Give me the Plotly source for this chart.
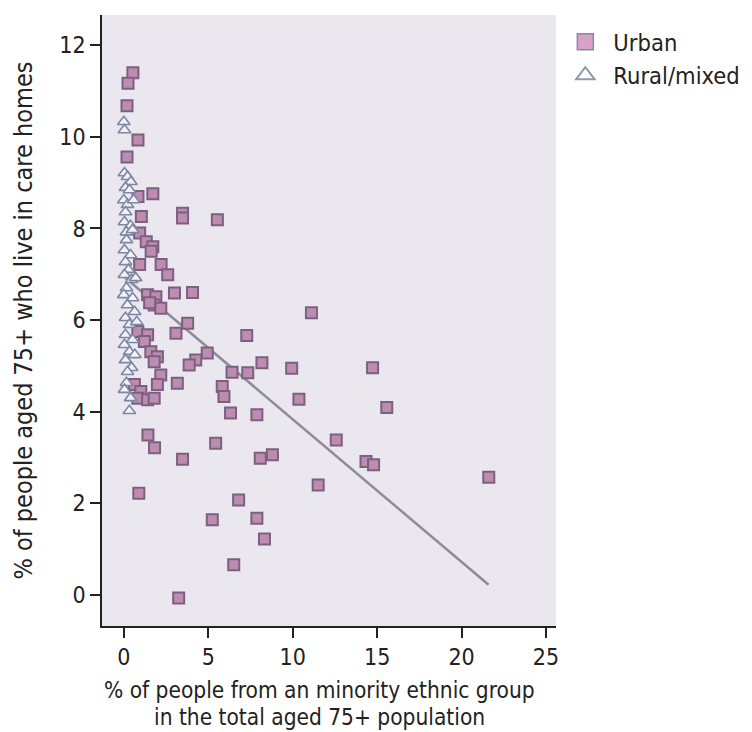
import plotly.graph_objects as go

# Urban local authorities: x = % minority ethnic in 75+ population, y = % of 75+ in care homes
urban_x = [0.54, 0.25, 0.19, 0.84, 0.19, 1.72, 0.84, 3.48, 3.48, 5.54, 1.04, 0.94, 1.33, 1.72, 1.62,
           2.21, 2.60, 0.94, 3.00, 4.07, 1.41, 1.90, 1.80, 2.19, 1.53, 3.78, 3.09, 7.28, 0.83, 1.41,
           1.22, 1.60, 1.99, 1.80, 4.94, 4.26, 3.87, 6.41, 7.34, 2.19, 1.99, 3.17, 0.63, 1.01, 0.83,
           1.41, 1.80, 5.83, 5.93, 6.32, 1.43, 1.82, 5.44, 3.48, 0.89, 6.80, 5.24, 6.51, 3.25, 11.11,
           8.18, 9.94, 14.73, 10.37, 15.57, 7.88, 12.58, 8.08, 8.80, 14.34, 14.79, 11.51, 21.61, 7.88, 8.33]
urban_y = [11.40, 11.17, 10.68, 9.93, 9.56, 8.76, 8.70, 8.33, 8.23, 8.19, 8.26, 7.90, 7.71, 7.60, 7.50,
           7.21, 6.99, 7.21, 6.59, 6.60, 6.55, 6.51, 6.33, 6.26, 6.38, 5.93, 5.71, 5.66, 5.75, 5.68,
           5.53, 5.31, 5.20, 5.09, 5.28, 5.13, 5.02, 4.86, 4.85, 4.80, 4.59, 4.62, 4.59, 4.44, 4.29,
           4.26, 4.29, 4.55, 4.33, 3.97, 3.49, 3.21, 3.31, 2.96, 2.22, 2.07, 1.64, 0.66, -0.07, 6.16,
           5.07, 4.95, 4.96, 4.27, 4.09, 3.93, 3.38, 2.98, 3.06, 2.91, 2.84, 2.40, 2.57, 1.67, 1.22]

# Rural/mixed local authorities
rural_x = [0.00, 0.04, 0.04, 0.22, 0.42, 0.10, 0.34, 0.00, 0.22, 0.10, 0.04, 0.40, 0.16, 0.16, 0.04,
           0.40, 0.10, 0.28, 0.04, 0.46, 0.16, 0.00, 0.52, 0.22, 0.64, 0.10, 0.34, 0.10, 0.52, 0.04,
           0.34, 0.10, 0.46, 0.22, 0.16, 0.04, 0.40, 0.33, 0.70, 0.77, 0.65, 0.52, 0.58]
rural_y = [10.33, 10.15, 9.21, 9.13, 9.02, 8.89, 8.84, 8.62, 8.52, 8.36, 8.14, 8.06, 7.92, 7.75, 7.53,
           7.42, 7.27, 7.10, 6.99, 6.88, 6.70, 6.55, 6.48, 6.33, 6.18, 6.05, 5.90, 5.68, 5.57, 5.46,
           5.31, 5.13, 4.96, 4.87, 4.63, 4.48, 4.30, 4.02, 6.92, 5.96, 5.24, 7.97, 8.62]

# Fitted regression line (end points)
fit_x = [0.0, 21.6]
fit_y = [6.95, 0.22]

x_ticks = [0, 5, 10, 15, 20, 25]
y_ticks = [0, 2, 4, 6, 8, 10, 12]

x_title_lines = ["% of people from an minority ethnic group", "in the total aged 75+ population"]
y_title = "% of people aged 75+ who live in care homes"

FONT = "Liberation Sans Narrow, DejaVu Sans Condensed, Arial Narrow, sans-serif"
INK = "#222222"

fig = go.Figure()
fig.add_trace(go.Scatter(
    x=fit_x, y=fit_y, mode="lines", showlegend=False, hoverinfo="skip",
    line=dict(color="#8e8c98", width=2.5)))
fig.add_trace(go.Scatter(
    x=urban_x, y=urban_y, mode="markers", showlegend=False,
    marker=dict(symbol="square", size=11, color="#bd8cb1",
                line=dict(color="#7d607f", width=2))))
fig.add_trace(go.Scatter(
    x=rural_x, y=rural_y, mode="markers", showlegend=False,
    marker=dict(symbol="triangle-up", size=11, color="#f3f1f6",
                line=dict(color="#7d87a3", width=1.6))))
# legend entries (larger symbols, as in the original key)
fig.add_trace(go.Scatter(
    x=[None], y=[None], mode="markers", name="Urban",
    marker=dict(symbol="square", size=16, color="#d8a2c6",
                line=dict(color="#8c87a2", width=1.5))))
fig.add_trace(go.Scatter(
    x=[None], y=[None], mode="markers", name="Rural/mixed",
    marker=dict(symbol="triangle-up-open", size=16, color="#8e96b2",
                line=dict(width=2))))

fig.update_layout(
    width=744, height=724,
    margin=dict(l=94, r=188, t=7, b=106),
    paper_bgcolor="white",
    plot_bgcolor="#ebe7ee",
    font=dict(family=FONT, size=23, color=INK),
    legend=dict(x=1.003, y=0.992, xanchor="left", yanchor="top",
                font=dict(size=23.5, color=INK), bgcolor="rgba(0,0,0,0)",
                itemsizing="trace", itemwidth=46, tracegroupgap=0),
    showlegend=True,
)
fig.update_xaxes(
    range=[-1.29, 25.59], tickvals=x_ticks, ticktext=[str(v) for v in x_ticks],
    showgrid=False, zeroline=False, showline=True, linecolor=INK, linewidth=1.5,
    ticks="outside", ticklen=10, tickwidth=1.5, tickcolor=INK,
    tickfont=dict(size=23), automargin=False)
fig.update_yaxes(
    range=[-0.68, 12.66], tickvals=y_ticks, ticktext=[str(v) for v in y_ticks],
    showgrid=False, zeroline=False, showline=True, linecolor=INK, linewidth=1.5,
    ticks="outside", ticklen=10, tickwidth=1.5, tickcolor=INK,
    tickfont=dict(size=23), automargin=False)

# axis titles as text annotations
fig.add_annotation(text=x_title_lines[0], xref="paper", yref="paper", x=0.48, y=0,
                   yshift=-64, showarrow=False, xanchor="center", yanchor="middle",
                   font=dict(size=22.5, color=INK))
fig.add_annotation(text=x_title_lines[1], xref="paper", yref="paper", x=0.48, y=0,
                   yshift=-91, showarrow=False, xanchor="center", yanchor="middle",
                   font=dict(size=22.5, color=INK))
fig.add_annotation(text=y_title, xref="paper", yref="paper", x=0, y=0.5, xshift=-79,
                   textangle=-90, showarrow=False, xanchor="center", yanchor="middle",
                   font=dict(size=25, color=INK))

fig.write_html("out.html")
